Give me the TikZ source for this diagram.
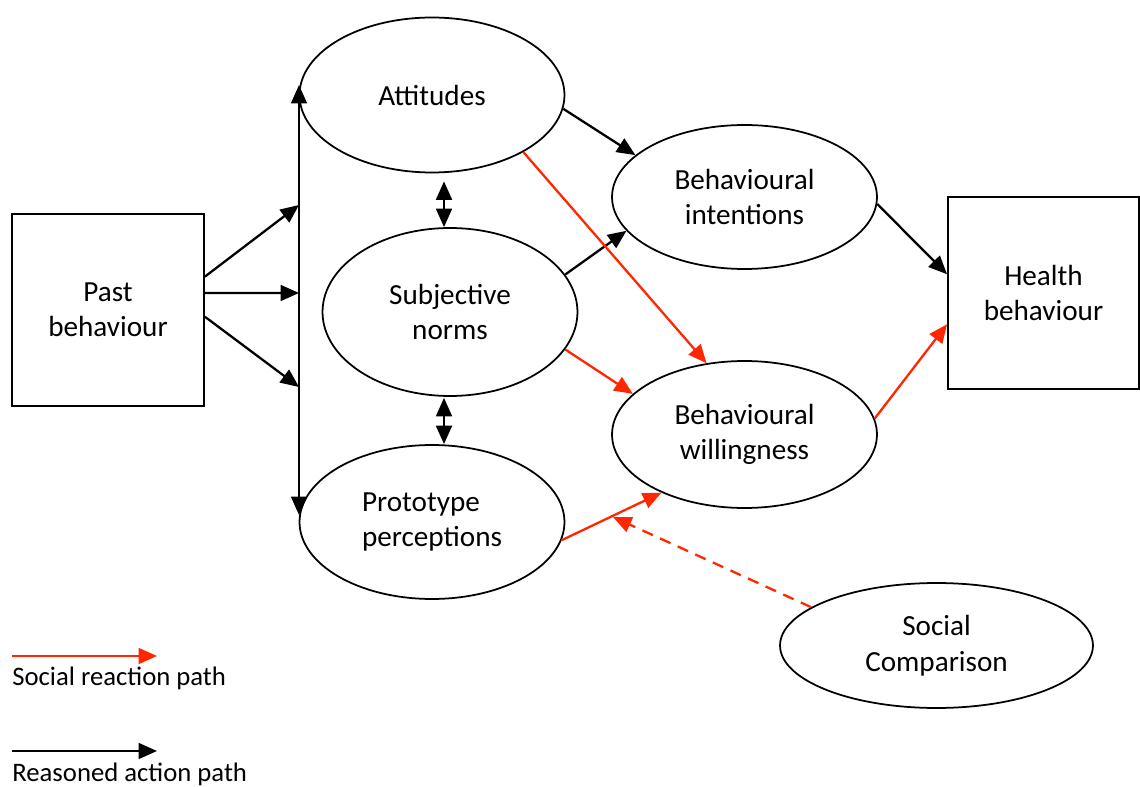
\documentclass[tikz,border=0pt]{standalone}
\usepackage{fontspec}
\setmainfont{Carlito}
\usetikzlibrary{arrows.meta}
\usetikzlibrary{shapes}
\usetikzlibrary{calc}
\definecolor{socialred}{RGB}{255,38,0}

\begin{document}
\begin{tikzpicture}[x=0.02cm,y=-0.02cm]
      \tikzstyle{every node}=[font=\fontsize{16.6}{20.2}\selectfont, align=center, inner sep=0pt]
      \tikzstyle{construct}=[draw, ellipse, line width=1pt]
      \tikzstyle{boxnode}=[draw, rectangle, line width=1.1pt, minimum height=3.84cm]
      \tikzstyle{reasoned}=[-{Triangle[length=10.5pt,width=9pt]}, line width=1.3pt]
      \tikzstyle{social}=[reasoned, color=socialred]
      \tikzstyle{twoway}=[{Triangle[length=10.5pt,width=9pt]}-{Triangle[length=10.5pt,width=9pt]}, line width=1.3pt]
      \tikzstyle{legendtext}=[anchor=west, font=\fontsize{15.2}{18}\selectfont]
      \useasboundingbox (0,0) rectangle (1140,787);

      \node[boxnode, minimum width=3.84cm] (pb) at (108,310)    {Past\\behaviour};
      \node[construct, minimum width=5.3cm, minimum height=3.1cm]   (att) at (432,95)    {Attitudes};
      \node[construct, minimum width=5.1cm, minimum height=3.36cm]  (sn)  at (450,312)   {Subjective\\norms};
      \node[construct, minimum width=5.3cm, minimum height=3.08cm, align=left] (pp) at (432,522) {Prototype\\perceptions};
      \node[construct, minimum width=5.3cm, minimum height=2.88cm]  (bi)  at (744.5,197) {Behavioural\\intentions};
      \node[construct, minimum width=5.3cm, minimum height=2.94cm]  (bw)  at (744.5,434.5) {Behavioural\\willingness};
      \node[boxnode, minimum width=3.82cm] (hb) at (1043.5,293) {Health\\behaviour};
      \node[construct, minimum width=6.26cm, minimum height=2.5cm]  (sc)  at (936.5,645.5) {Social\\Comparison};

      % bar in front of the three constructs
      \coordinate (bartop) at (299,85);
      \coordinate (barbot) at (299,515);
      \coordinate (bar1)   at (299,205);
      \coordinate (bar2)   at (299,293);
      \coordinate (bar3)   at (299,387);
      \draw[twoway] (barbot) -- (bartop);
      \draw[reasoned] (pb.19.5) -- (bar1);
      \draw[reasoned] (pb.10)   -- (bar2);
      \draw[reasoned] (pb.-4)   -- (bar3);

      \draw[twoway] ($(att.south)+(12,8)$) -- ($(sn.north)+(-6,0)$);
      \draw[twoway] ($(sn.south)+(-6,1)$)  -- ($(pp.north)+(12,0)$);

      % reasoned action path
      \draw[reasoned] (att.-6) -- (bi.159);
      \draw[reasoned] (sn.18)  -- (bi.196);
      \draw[reasoned] (bi.-3)  -- (hb.169);

      % social reaction path
      \draw[social] (att.-32) -- (bw.118);
      \draw[social] (sn.-18)  -- (bw.160);
      \draw[social] (pp.-8)   -- (bw.-145);
      \draw[social] (bw.7)    -- (hb.-162);
      \coordinate (cmp) at (613,517);
      \draw[social, dash pattern=on 6.5pt off 4.5pt] (sc.163) -- (cmp);

      % legend
      \coordinate (sl) at (12,656);
      \coordinate (sr) at (157,656);
      \draw[social] (sl) -- (sr);
      \node[legendtext] (slabel) at (12,678) {Social reaction path};
      \coordinate (rl) at (12,751);
      \coordinate (rr) at (157,751);
      \draw[reasoned] (rl) -- (rr);
      \node[legendtext] (rlabel) at (12,774) {Reasoned action path};
\end{tikzpicture}
\end{document}
